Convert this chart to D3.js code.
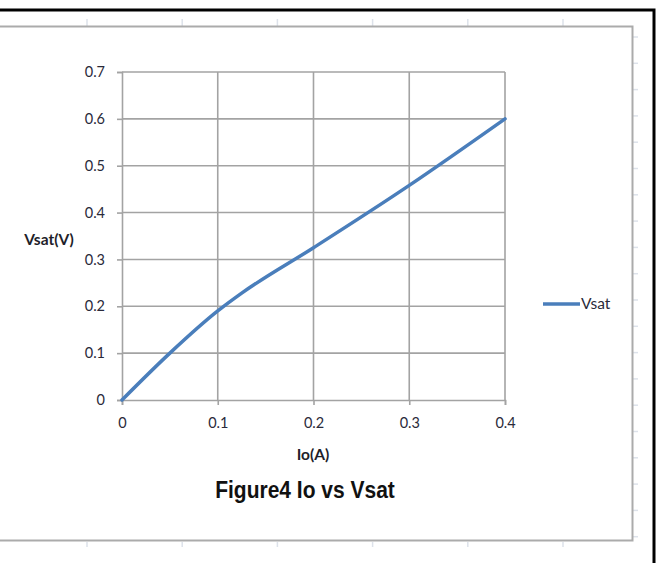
<!DOCTYPE html>
<html>
<head>
<meta charset="utf-8">
<script src="https://cdn.jsdelivr.net/npm/d3@7/dist/d3.min.js"></script>
<style>
  html, body { margin: 0; padding: 0; background: #ffffff; }
  svg { display: block; }
</style>
</head>
<body>
<svg id="chart" width="661" height="563"></svg>
<script>
// Output current Io (A) against saturation voltage Vsat (V)
const ioValues   = [0, 0.05, 0.1, 0.125, 0.2, 0.3, 0.4];
const vsatValues = [0, 0.1, 0.19, 0.228, 0.325, 0.458, 0.6];
const seriesName = "Vsat";

const xTicks = [0, 0.1, 0.2, 0.3, 0.4];
const yTicks = [0, 0.1, 0.2, 0.3, 0.4, 0.5, 0.6, 0.7];

const chartTitle = "Figure4 Io vs Vsat";
const xTitle = "Io(A)";
const yTitle = "Vsat(V)";

const svg = d3.select("#chart");

// worksheet cell gridline stubs peeking around the chart object
const stubColor = "#dde2ea";
const colStubs = d3.range(87, 640, 95.2);
svg.append("g").selectAll("line.top").data(colStubs).join("line")
  .attr("x1", d => d).attr("x2", d => d).attr("y1", 19).attr("y2", 26)
  .attr("stroke", stubColor).attr("stroke-width", 1.5);
svg.append("g").selectAll("line.bot").data(colStubs).join("line")
  .attr("x1", d => d).attr("x2", d => d).attr("y1", 542).attr("y2", 547)
  .attr("stroke", stubColor).attr("stroke-width", 1.5);
const rowStubs = d3.range(37, 541, 26.3);
svg.append("g").selectAll("line").data(rowStubs).join("line")
  .attr("x1", 633).attr("x2", 638).attr("y1", d => d).attr("y2", d => d)
  .attr("stroke", stubColor).attr("stroke-width", 1.5);

// chart object outline
svg.append("path")
  .attr("d", "M0,26.5 H632.5 V540.5 H0")
  .attr("fill", "#ffffff").attr("stroke", "#ababab").attr("stroke-width", 2);

// selection frame
svg.append("path")
  .attr("d", "M0,10 H654 V563")
  .attr("fill", "none").attr("stroke", "#000000").attr("stroke-width", 3);

const plot = { left: 122, right: 505, top: 72, bottom: 400 };

const x = d3.scaleLinear().domain([0, 0.4]).range([plot.left, plot.right]);
const y = d3.scaleLinear().domain([0, 0.7]).range([plot.bottom, plot.top]);

const gridColor = "#a3a3a3";

// horizontal gridlines
svg.append("g").selectAll("line").data(yTicks.filter(d => d > 0)).join("line")
  .attr("x1", plot.left).attr("x2", plot.right)
  .attr("y1", d => y(d)).attr("y2", d => y(d))
  .attr("stroke", gridColor).attr("stroke-width", 1.6);

// vertical gridlines
svg.append("g").selectAll("line").data(xTicks.filter(d => d > 0)).join("line")
  .attr("x1", d => x(d)).attr("x2", d => x(d))
  .attr("y1", plot.top).attr("y2", plot.bottom)
  .attr("stroke", gridColor).attr("stroke-width", 1.6);

const tickFont = "Lato, 'Open Sans', sans-serif";
const labelSize = "14.5px";

// y axis
const yAxis = svg.append("g")
  .attr("transform", `translate(${plot.left},0)`)
  .call(d3.axisLeft(y).tickValues(yTicks).tickFormat(d3.format("~g"))
    .tickSize(5).tickPadding(12));
// x axis
const xAxis = svg.append("g")
  .attr("transform", `translate(0,${plot.bottom})`)
  .call(d3.axisBottom(x).tickValues(xTicks).tickFormat(d3.format("~g"))
    .tickSize(5).tickPadding(13));

[yAxis, xAxis].forEach(ax => {
  ax.select(".domain").attr("stroke", gridColor).attr("stroke-width", 1.6);
  ax.selectAll(".tick line").attr("stroke", gridColor).attr("stroke-width", 1.6);
  ax.selectAll(".tick text")
    .attr("fill", "#2a2a3a")
    .style("font-family", tickFont)
    .style("font-size", labelSize);
});

// data line
const line = d3.line()
  .x((d, i) => x(ioValues[i]))
  .y(d => y(d))
  .curve(d3.curveMonotoneX);

svg.append("path")
  .datum(vsatValues)
  .attr("d", line)
  .attr("fill", "none")
  .attr("stroke", "#4a7ebb")
  .attr("stroke-width", 3.5)
  .attr("stroke-linecap", "round")
  .attr("stroke-linejoin", "round");

// axis titles
svg.append("text")
  .attr("x", 49).attr("y", 245)
  .attr("text-anchor", "middle")
  .attr("fill", "#1e1e2a")
  .style("font-family", tickFont).style("font-weight", "bold").style("font-size", "15.5px")
  .text(yTitle);

svg.append("text")
  .attr("x", 313).attr("y", 460)
  .attr("text-anchor", "middle")
  .attr("fill", "#1e1e2a")
  .style("font-family", tickFont).style("font-weight", "bold").style("font-size", "15.5px")
  .text(xTitle);

// chart title
svg.append("text")
  .attr("transform", "translate(305,498) scale(1,1.12)")
  .attr("text-anchor", "middle")
  .attr("fill", "#111111")
  .style("font-family", "'Liberation Sans', Arial, sans-serif")
  .style("font-weight", "bold").style("font-size", "21px")
  .text(chartTitle);

// legend
const legend = svg.append("g").attr("transform", "translate(543,304)");
legend.append("line")
  .attr("x1", 0).attr("x2", 37).attr("y1", 0).attr("y2", 0)
  .attr("stroke", "#4a7ebb").attr("stroke-width", 3.5);
legend.append("text")
  .attr("x", 38).attr("y", 5)
  .attr("fill", "#2a2a3a")
  .style("font-family", tickFont).style("font-size", "15.5px")
  .text(seriesName);
</script>
</body>
</html>
